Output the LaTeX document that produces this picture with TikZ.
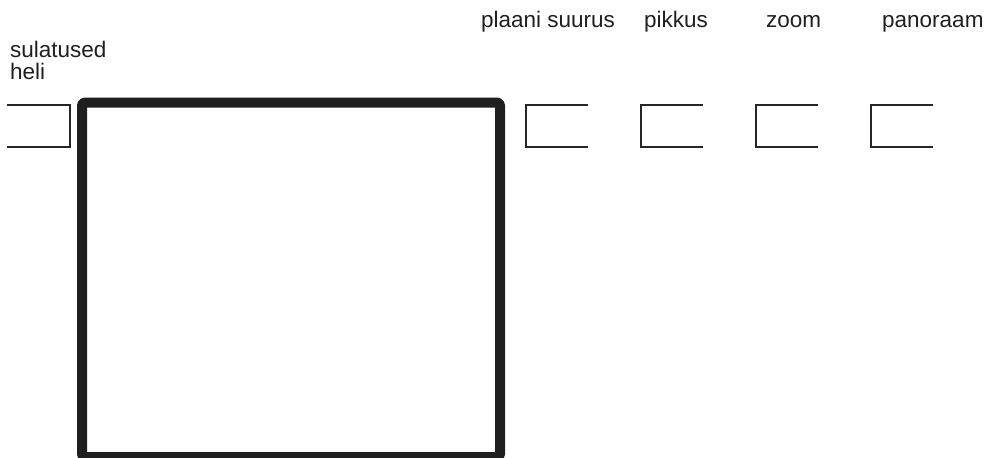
\documentclass[tikz,border=0pt]{standalone}
\usepackage{fontspec}
\setmainfont{Liberation Sans}
\begin{document}
\begin{tikzpicture}[x=1pt,y=-1pt,
  lbl/.style={anchor=base west,inner sep=0pt,font=\fontsize{22.5}{24}\selectfont,text=black!88},
  brk/.style={line width=2pt,draw=black!85},
  bigbox/.style={line width=10pt,draw=black!88,line join=round,rounded corners=3pt}]
\useasboundingbox (0,0) rectangle (989,458);
% labels
\node[lbl] (sul) at (10,57) {sulatused};
\node[lbl] (hel) at (10,79) {heli};
\node[lbl] (pla) at (481,27) {plaani suurus};
\node[lbl] (pik) at (644,27) {pikkus};
\node[lbl] (zoo) at (766,27) {zoom};
\node[lbl] (pan) at (882,27) {panoraam};
% left bracket (open to the left)
\draw[brk] (7,105) -- (70,105) -- (70,147) -- (7,147);
% right brackets (open to the right)
\foreach \x in {526,641,756,871}{
  \draw[brk] (\x+62,105) -- (\x,105) -- (\x,147) -- (\x+62,147);
}
% big box
\draw[bigbox] (82,102.5) rectangle (500,457);
\end{tikzpicture}
\end{document}
